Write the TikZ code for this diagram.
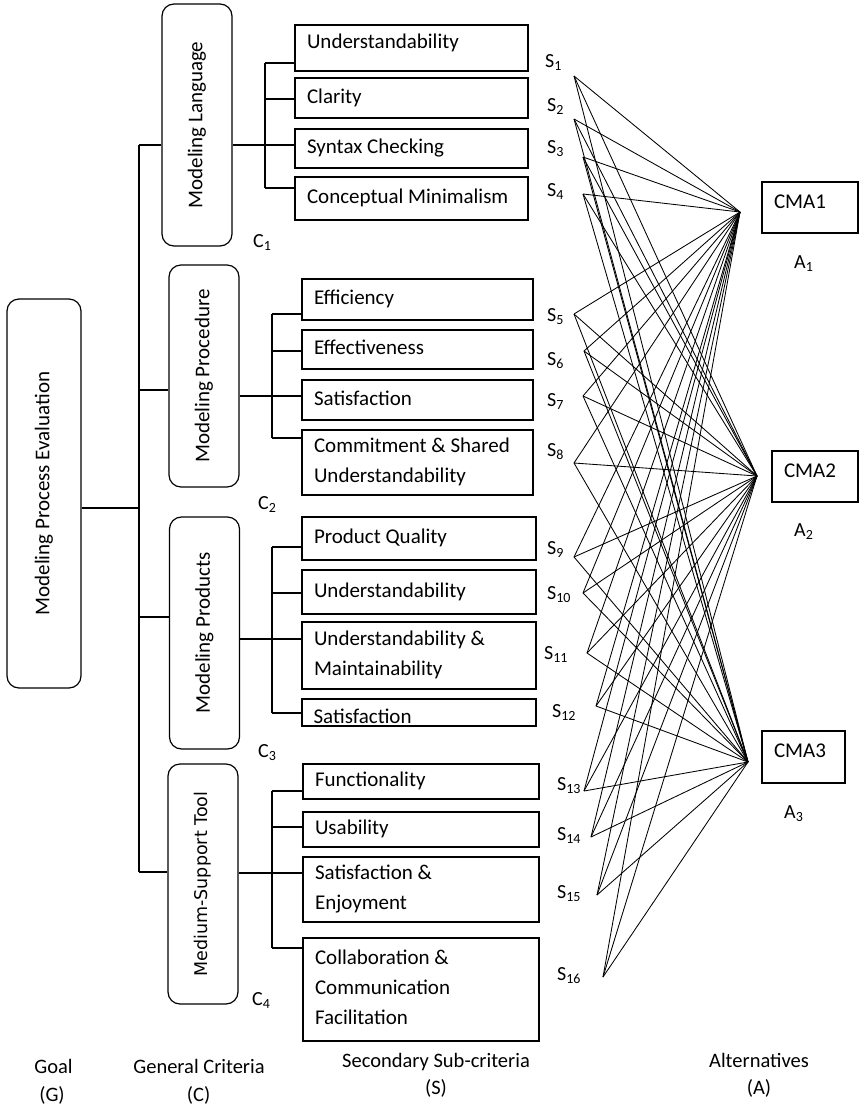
\documentclass[tikz,border=0pt]{standalone}
\usepackage{fontspec}
\setmainfont{Carlito}
\newfontfamily\vfont{DejaVu Sans}
\usetikzlibrary{calc}
\begin{document}
\begin{tikzpicture}[x=1pt,y=-1pt,
  every node/.style={font=\fontsize{21}{30}\selectfont},
  sbox/.style={draw, line width=1.2pt, inner xsep=12pt, inner ysep=0pt, align=flush left},
  one/.style={text height=15pt, text depth=5pt},
  two/.style={text height=15pt, text depth=35pt},
  three/.style={text height=15pt, text depth=65pt},
  wA/.style={text width=209pt},
  wB/.style={text width=207pt},
  wC/.style={text width=210pt},
  wD/.style={text width=212pt},
  cbox/.style={draw, line width=1.2pt, rounded corners=12pt, inner sep=0pt, minimum width=70pt},
  cma/.style={draw, line width=1.2pt, inner xsep=12pt, inner ysep=0pt, align=flush left, text height=13.5pt, text depth=12.5pt},
  lab/.style={font=\fontsize{20}{24}\selectfont, inner sep=0pt, anchor=base west},
  foot/.style={font=\fontsize{20.5}{24}\selectfont, inner sep=0pt, anchor=base},
  conn/.style={line width=1.1pt},
  web/.style={line width=0.85pt}
]
\useasboundingbox (0,0) rectangle (860,1109);

% goal
\node[cbox, minimum width=74pt, minimum height=389pt] (g) at (44,493.5) {\rotatebox{90}{Modeling Process Evaluation}};

% general criteria
\node[cbox, minimum height=242pt] (c1) at (197,125) {\rotatebox{90}{Modeling Language}};
\node[cbox, minimum height=222pt] (c2) at (204,376) {\rotatebox{90}{Modeling Procedure}};
\node[cbox, minimum height=232pt] (c3) at (204.5,633) {\rotatebox{90}{Modeling Products}};
\node[cbox, minimum height=240pt] (c4) at (203,884) {\rotatebox{90}{\vfont\fontsize{17.5}{20}\selectfont Medium-Support Tool}};

% sub-criteria
\node[sbox, wA, text height=15pt, text depth=15pt, minimum height=46pt] (s1) at (411.5,48) {Understandability};
\node[sbox, wA, one, minimum height=40pt] (s2) at (411.5,98) {Clarity};
\node[sbox, wA, one, minimum height=39pt] (s3) at (411.5,148.5) {Syntax Checking};
\node[sbox, wA, one, minimum height=43pt] (s4) at (411.5,198.5) {Conceptual Minimalism};

\node[sbox, wB, one, minimum height=41pt] (s5) at (417.5,299.5) {Efficiency};
\node[sbox, wB, one, minimum height=39pt] (s6) at (417.5,349.5) {Effectiveness};
\node[sbox, wB, one, minimum height=40pt] (s7) at (417.5,400) {Satisfaction};
\node[sbox, wB, two, minimum height=65pt] (s8) at (417.5,462.5) {Commitment \& Shared\\Understandability};

\node[sbox, wC, one, minimum height=43pt] (s9) at (419,538.5) {Product Quality};
\node[sbox, wC, one, minimum height=44pt] (s10) at (419,592) {Understandability};
\node[sbox, wC, two, minimum height=67pt] (s11) at (419,655.5) {Understandability \&\\Maintainability};
\node[draw, line width=1.2pt, inner sep=0pt, minimum width=234pt, minimum height=27pt] (s12) at (419,712.5) {};
\node[inner sep=0pt, anchor=base west] (s12t) at ($(s12.west)+(12,10.5)$) {Satisfaction};

\node[sbox, wD, one, minimum height=35pt] (s13) at (421,781.5) {Functionality};
\node[sbox, wD, one, minimum height=35pt] (s14) at (421,829.5) {Usability};
\node[sbox, wD, two, minimum height=65pt] (s15) at (421,889.5) {Satisfaction \&\\Enjoyment};
\node[sbox, wD, three, minimum height=103pt] (s16) at (421,989.5) {Collaboration \&\\Communication\\Facilitation};

% alternatives
\node[cma, text width=72pt, minimum height=51pt] (a1) at (810,207.5) {CMA1};
\node[cma, text width=62pt, minimum height=51pt] (a2) at (815,476.5) {CMA2};
\node[cma, text width=59pt, minimum height=52pt] (a3) at (803.5,757) {CMA3};

% trunk
\coordinate (t1) at (139,145);
\coordinate (t2) at (139,390);
\coordinate (t3) at (139,617);
\coordinate (t4) at (139,872);
\coordinate (tg) at (139,508);
\draw[conn] (t1) -- (t4);
\draw[conn] (g.east |- tg) -- (tg);
\draw[conn] (t1) -- (c1.west |- t1);
\draw[conn] (t2) -- (c2.west |- t2);
\draw[conn] (t3) -- (c3.west |- t3);
\draw[conn] (t4) -- (c4.west |- t4);

% buses
\coordinate (u1) at (265,63);  \coordinate (u2) at (265,99);
\coordinate (u3) at (265,145); \coordinate (u4) at (265,188);
\coordinate (u5) at (272,314); \coordinate (u6) at (272,351);
\coordinate (u7) at (272,396); \coordinate (u8) at (272,438);
\coordinate (u9) at (272,547); \coordinate (u10) at (272,593);
\coordinate (u11) at (272,639); \coordinate (u12) at (272,713);
\coordinate (u13) at (272,791); \coordinate (u14) at (272,827);
\coordinate (u15) at (272,873); \coordinate (u16) at (272,948);
\draw[conn] (u1) -- (u4);
\draw[conn] (u5) -- (u8);
\draw[conn] (u9) -- (u12);
\draw[conn] (u13) -- (u16);
\foreach \i in {1,...,16} {\draw[conn] (u\i) -- (s\i.west |- u\i);}
\draw[conn] (c1.east |- u3) -- (u3);
\draw[conn] (c2.east |- u7) -- (u7);
\draw[conn] (c3.east |- u11) -- (u11);
\draw[conn] (c4.east |- u15) -- (u15);

% web
\coordinate (p1) at (574,76);
\coordinate (p2) at (574,119);
\coordinate (p3) at (583,157);
\coordinate (p4) at (583,194);
\coordinate (p5) at (574,314);
\coordinate (p6) at (584,351);
\coordinate (p7) at (583,396);
\coordinate (p8) at (574,463);
\coordinate (p9) at (574,557);
\coordinate (p10) at (583,593);
\coordinate (p11) at (587,653);
\coordinate (p12) at (596,706);
\coordinate (p13) at (584,791);
\coordinate (p14) at (591,837);
\coordinate (p15) at (597,895);
\coordinate (p16) at (603,977);
\coordinate (h1) at (740,212);
\coordinate (h2) at (757,476);
\coordinate (h3) at (748,762);
\foreach \i in {1,...,16} {\foreach \j in {1,2,3} {\draw[web] (p\i) -- (h\j);}}

% S labels
\node[lab] (l1) at (545,67) {S\textsubscript{1}};
\node[lab] (l2) at (547,111) {S\textsubscript{2}};
\node[lab] (l3) at (547,153) {S\textsubscript{3}};
\node[lab] (l4) at (547,196) {S\textsubscript{4}};
\node[lab] (l5) at (547,321) {S\textsubscript{5}};
\node[lab] (l6) at (547,365) {S\textsubscript{6}};
\node[lab] (l7) at (547,406) {S\textsubscript{7}};
\node[lab] (l8) at (547,456) {S\textsubscript{8}};
\node[lab] (l9) at (547,554) {S\textsubscript{9}};
\node[lab] (l10) at (547,599) {S\textsubscript{10}};
\node[lab] (l11) at (544,659) {S\textsubscript{11}};
\node[lab] (l12) at (552,717) {S\textsubscript{12}};
\node[lab] (l13) at (557,790) {S\textsubscript{13}};
\node[lab] (l14) at (557,840) {S\textsubscript{14}};
\node[lab] (l15) at (557,898) {S\textsubscript{15}};
\node[lab] (l16) at (557,980) {S\textsubscript{16}};

% C labels
\node[lab] (k1) at (253,247) {C\textsubscript{1}};
\node[lab] (k2) at (258,509) {C\textsubscript{2}};
\node[lab] (k3) at (258,757) {C\textsubscript{3}};
\node[lab] (k4) at (252,1005) {C\textsubscript{4}};

% A labels
\node[lab] (m1) at (794,268) {A\textsubscript{1}};
\node[lab] (m2) at (794,536) {A\textsubscript{2}};
\node[lab] (m3) at (784,818) {A\textsubscript{3}};

% footer
\node[foot] (f1) at (53.5,1073) {Goal};
\node[foot] (f2) at (52,1101) {(G)};
\node[foot] (f3) at (199,1073) {General Criteria};
\node[foot] (f4) at (198.6,1101) {(C)};
\node[foot] (f5) at (436,1067) {Secondary Sub-criteria};
\node[foot] (f6) at (436,1094) {(S)};
\node[foot] (f7) at (759,1067) {Alternatives};
\node[foot] (f8) at (759,1094) {(A)};
\end{tikzpicture}
\end{document}
